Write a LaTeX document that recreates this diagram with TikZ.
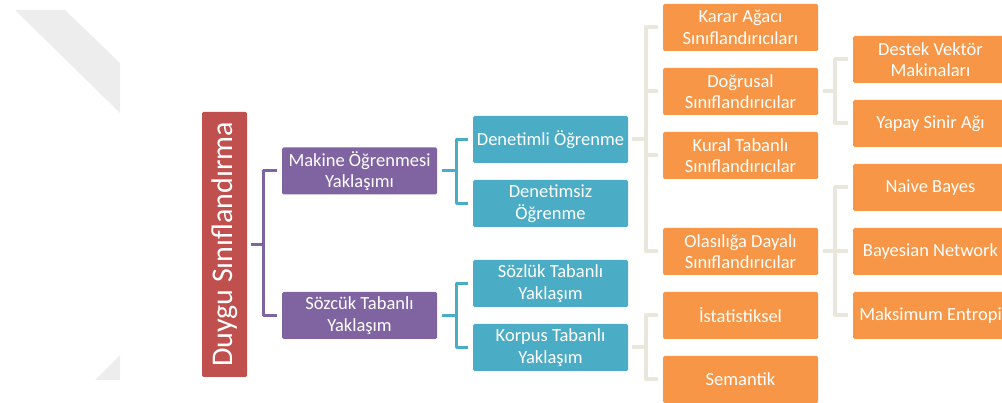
\documentclass[tikz,border=0pt]{standalone}
\usepackage{fontspec}
\setmainfont{Carlito}
\definecolor{rootred}{HTML}{C0504D}
\definecolor{levelpurple}{HTML}{8064A2}
\definecolor{levelteal}{HTML}{4BACC6}
\definecolor{levelorange}{HTML}{F79646}
\definecolor{linkbeige}{HTML}{E9E7DB}
\definecolor{markgray}{HTML}{EDEDED}
\begin{document}
\begin{tikzpicture}[x=1pt,y=-1pt,
  box/.style={rectangle, rounded corners=1.5pt, minimum width=155pt, minimum height=47pt,
    inner sep=0pt, text=white, align=center, font=\fontsize{18.5}{21.5}\selectfont},
  rootbox/.style={rectangle, rounded corners=1.5pt, fill=rootred, minimum width=45pt,
    minimum height=265pt, inner sep=0pt, text=white},
  purplebox/.style={box, fill=levelpurple},
  tealbox/.style={box, fill=levelteal},
  orangebox/.style={box, fill=levelorange},
  purplelink/.style={draw=levelpurple, line width=3pt, line join=round},
  teallink/.style={draw=levelteal, line width=3pt, line join=round},
  beigelink/.style={draw=linkbeige, line width=4pt, line join=round}]
\useasboundingbox (0,0) rectangle (1002,403);
\clip (0,0) rectangle (1002,403);

% faint background marks
\fill[markgray] (15,10) -- (65,10) -- (120,63) -- (120,113) -- cycle;
\fill[markgray] (95,380) -- (120,355) -- (120,380) -- cycle;

% root
\node[rootbox] (root) at (224.5,244.5)
  {\rotatebox{90}{\fontsize{30}{34}\selectfont Duygu Sınıflandırma}};

% level 1
\node[purplebox] (mak) at (359.5,171) {Makine Öğrenmesi\\Yaklaşımı};
\node[purplebox] (soz) at (359.5,315.5) {Sözcük Tabanlı\\Yaklaşım};

% level 2
\node[tealbox] (den) at (550.5,139.5) {Denetimli Öğrenme};
\node[tealbox] (dsz) at (550.5,203.5) {Denetimsiz\\Öğrenme};
\node[tealbox] (szl) at (550.5,283.5) {Sözlük Tabanlı\\Yaklaşım};
\node[tealbox] (kor) at (550.5,347.5) {Korpus Tabanlı\\Yaklaşım};

% level 3
\node[orangebox] (kar) at (740.5,27.5) {Karar Ağacı\\Sınıflandırıcıları};
\node[orangebox] (dog) at (740.5,91.5) {Doğrusal\\Sınıflandırıcılar};
\node[orangebox] (kur) at (740.5,155.5) {Kural Tabanlı\\Sınıflandırıcılar};
\node[orangebox] (ola) at (740.5,251.5) {Olasılığa Dayalı\\Sınıflandırıcılar};
\node[orangebox] (ist) at (740.5,315.5) {İstatistiksel};
\node[orangebox] (sem) at (740.5,379.5) {Semantik};

% level 4
\node[orangebox] (des) at (930.5,59.5) {Destek Vektör\\Makinaları};
\node[orangebox] (yap) at (930.5,123.5) {Yapay Sinir Ağı};
\node[orangebox] (nai) at (930.5,187.5) {Naive Bayes};
\node[orangebox] (bay) at (930.5,251.5) {Bayesian Network};
\node[orangebox] (mks) at (930.5,315.5) {Maksimum Entropi};

% bracket spines
\coordinate (s1) at (263,0);
\coordinate (s2) at (456,0);
\coordinate (s3) at (646,0);
\coordinate (s4) at (835,0);

% root -> level 1
\draw[purplelink] ([xshift=4pt]root.east) -- (root.east -| s1);
\draw[purplelink] ([xshift=-5pt]mak.west) -| (s1 |- soz.west) -- ([xshift=-5pt]soz.west);

% level 1 -> level 2
\draw[teallink] ([xshift=5pt]mak.east) -- (mak.east -| s2);
\draw[teallink] ([xshift=-5pt]den.west) -| (s2 |- dsz.west) -- ([xshift=-5pt]dsz.west);
\draw[teallink] ([xshift=5pt]soz.east) -- (soz.east -| s2);
\draw[teallink] ([xshift=-5pt]szl.west) -| (s2 |- kor.west) -- ([xshift=-5pt]kor.west);

% level 2 -> level 3
\draw[beigelink] ([xshift=4pt]den.east) -- (den.east -| s3);
\draw[beigelink] ([xshift=-5pt]kar.west) -| (s3 |- ola.west) -- ([xshift=-5pt]ola.west);
\draw[beigelink] (s3 |- dog.west) -- ([xshift=-5pt]dog.west);
\draw[beigelink] (s3 |- kur.west) -- ([xshift=-5pt]kur.west);
\draw[beigelink] ([xshift=4pt]kor.east) -- (kor.east -| s3);
\draw[beigelink] ([xshift=-5pt]ist.west) -| (s3 |- sem.west) -- ([xshift=-5pt]sem.west);

% level 3 -> level 4
\draw[beigelink] ([xshift=5pt]dog.east) -- (dog.east -| s4);
\draw[beigelink] ([xshift=-5pt]des.west) -| (s4 |- yap.west) -- ([xshift=-5pt]yap.west);
\draw[beigelink] ([xshift=5pt]ola.east) -- (ola.east -| s4);
\draw[beigelink] ([xshift=-5pt]nai.west) -| (s4 |- mks.west) -- ([xshift=-5pt]mks.west);
\draw[beigelink] (s4 |- bay.west) -- ([xshift=-5pt]bay.west);
\end{tikzpicture}
\end{document}
